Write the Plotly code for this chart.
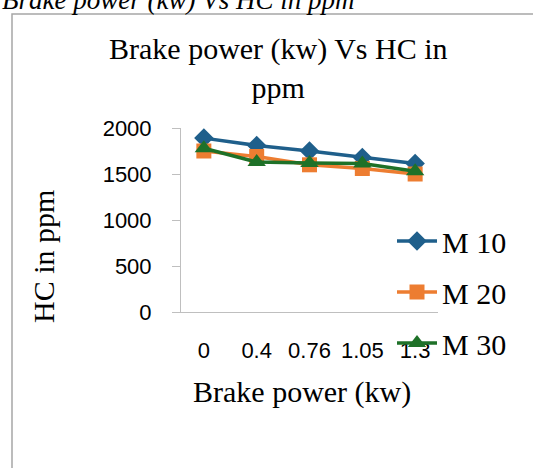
import plotly.graph_objects as go

categories = ["0", "0.4", "0.76", "1.05", "1.3"]
m10 = [1890, 1810, 1750, 1680, 1615]
m20 = [1750, 1690, 1600, 1560, 1500]
m30 = [1780, 1630, 1620, 1615, 1530]
y_ticks = [0, 500, 1000, 1500, 2000]

W, H = 533, 468
L, R, T, B = 181, 438, 128, 312  # plot area pixels


def px(x):
    return (x - L) / (R - L)


def py(y):
    return (B - y) / (B - T)


fig = go.Figure()
series = [
    ("M 10", m10, "#1F5F8B", "diamond", 15),
    ("M 20", m20, "#ED7D31", "square", 15),
    ("M 30", m30, "#1E7128", "triangle-up", 16),
]
for i, (name, vals, col, sym, ms) in enumerate(series):
    fig.add_trace(go.Scatter(
        x=categories, y=vals, name=name, mode="lines+markers",
        line=dict(color=col, width=3.5),
        marker=dict(symbol=sym, size=ms, color=col),
        legendgroup=f"g{i}",
    ))

serif = "Liberation Serif, Times New Roman, serif"
sans = "Liberation Sans, Arial, sans-serif"

fig.update_layout(
    width=W, height=H,
    margin=dict(l=L, r=W - R, t=T, b=H - B, pad=0),
    paper_bgcolor="white", plot_bgcolor="white",
    showlegend=True,
    legend=dict(
        x=px(392), y=py(215), xanchor="left", yanchor="top",
        font=dict(family=serif, size=30, color="black"),
        tracegroupgap=9, bgcolor="rgba(0,0,0,0)",
        itemwidth=40,
    ),
    xaxis=dict(
        type="category", showline=True, linecolor="#BFBFBF", linewidth=1,
        showgrid=False, ticks="", zeroline=False,
        tickfont=dict(family=sans, size=22, color="black"),
        ticklabelstandoff=19,
    ),
    yaxis=dict(
        range=[0, 2000], tickvals=y_ticks, showline=True, linecolor="#BFBFBF",
        linewidth=1, showgrid=False, ticks="outside", ticklen=8,
        tickcolor="#BFBFBF", zeroline=False,
        tickfont=dict(family=sans, size=22, color="black"),
        ticklabelstandoff=16,
    ),
    shapes=[dict(
        type="rect", xref="paper", yref="paper",
        x0=px(12), x1=px(560), y0=py(500), y1=py(14),
        line=dict(color="#A6A6A6", width=1.5), fillcolor="rgba(0,0,0,0)",
        layer="below",
    )],
    annotations=[
        dict(text="<i>Brake power (kw) Vs HC in ppm</i>", xref="paper", yref="paper",
             x=px(0), y=py(0), xanchor="left", yanchor="middle", showarrow=False,
             font=dict(family=serif, size=27, color="black")),
        dict(text="Brake power (kw) Vs HC in<br>ppm", xref="paper", yref="paper",
             x=px(278), y=py(68), xanchor="center", yanchor="middle", showarrow=False,
             font=dict(family=serif, size=30, color="black")),
        dict(text="HC in ppm", xref="paper", yref="paper", textangle=-90,
             x=px(43), y=py(257), xanchor="center", yanchor="middle", showarrow=False,
             font=dict(family=serif, size=30, color="black")),
        dict(text="Brake power (kw)", xref="paper", yref="paper",
             x=px(302), y=py(392), xanchor="center", yanchor="middle", showarrow=False,
             font=dict(family=serif, size=30, color="black")),
    ],
)

fig.write_html("out.html")
